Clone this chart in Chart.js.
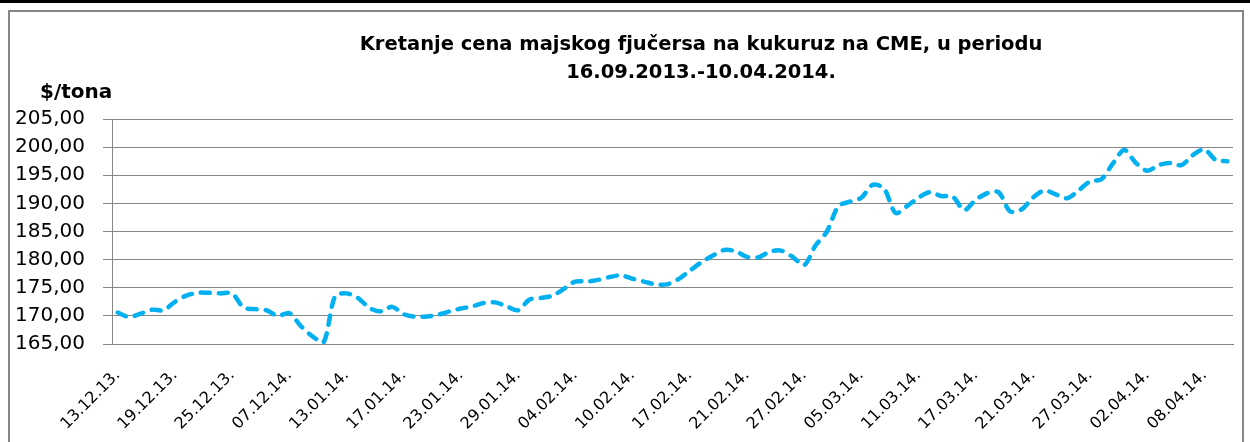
<!DOCTYPE html>
<html>
<head>
<meta charset="utf-8">
<title>Kretanje cena majskog fjučersa na kukuruz na CME</title>
<script src="https://cdn.jsdelivr.net/npm/chart.js@4/dist/chart.umd.min.js"></script>
<style>
    body { margin: 0; background: #fff; overflow: hidden; }
    .top-bar { position: absolute; left: 0; top: 0; width: 1250px; height: 3px; background: #000; }
    .frame { position: absolute; left: 8px; top: 10px; width: 1232px; height: 440px; border: 2px solid #868686; }
    .chart-box { position: absolute; left: 0; top: 0; width: 1250px; height: 442px; }
</style>
</head>
<body>
<div class="top-bar"></div>
<div class="frame"></div>
<div class="chart-box"><canvas id="cornChart"></canvas></div>
<script>
// Tick labels shown on the x axis (every 5th trading day)
const tickLabels = ['13.12.13.', '19.12.13.', '25.12.13.', '07.12.14.', '13.01.14.', '17.01.14.',
    '23.01.14.', '29.01.14.', '04.02.14.', '10.02.14.', '17.02.14.', '21.02.14.', '27.02.14.',
    '05.03.14.', '11.03.14.', '17.03.14.', '21.03.14.', '27.03.14.', '02.04.14.', '08.04.14.'];

// Daily price of the May corn future, $/tona
const prices = [
    170.6, 169.8, 170.4, 171.1, 171.0, 172.5, 173.6, 174.1, 174.1, 174.0,
    174.0, 171.5, 171.2, 171.0, 170.0, 170.5, 168.2, 166.4, 165.3, 173.5,
    174.0, 173.2, 171.4, 170.8, 171.6, 170.3, 169.85, 169.9, 170.2, 170.8,
    171.3, 171.7, 172.3, 172.4, 171.7, 171.0, 172.9, 173.2, 173.6, 174.8,
    176.1, 176.1, 176.4, 176.9, 177.2, 176.6, 176.1, 175.6, 175.6, 176.5,
    178.0, 179.5, 180.7, 181.7, 181.5, 180.5, 180.4, 181.4, 181.6, 180.5,
    179.0, 182.5, 185.0, 189.5, 190.3, 191.0, 193.3, 192.6, 188.3, 189.5,
    191.0, 192.0, 191.3, 191.2, 188.8, 190.6, 191.8, 192.0, 188.6, 188.9,
    191.0, 192.3, 191.6, 190.9, 192.3, 193.9, 194.3, 197.1, 199.5, 197.2,
    195.8, 196.8, 197.2, 196.8, 198.6, 199.6, 197.7, 197.5
];

const titleLines = ['Kretanje cena majskog fjučersa na kukuruz na CME, u periodu', '16.09.2013.-10.04.2014.'];
const unitLabel = '$/tona';

// one category per price, label only every 5th
const categories = prices.map((_, i) => (i % 5 === 0 ? tickLabels[i / 5] || '' : ''));

const fontFamily = '"DejaVu Sans", sans-serif';
const gridColor = '#868686';

// Title and unit text drawn above the plot
const headerPlugin = {
    id: 'headerText',
    afterDraw(chart) {
        const ctx = chart.ctx;
        ctx.save();
        ctx.fillStyle = '#000';
        ctx.font = 'bold 19.5px ' + fontFamily;
        ctx.textBaseline = 'middle';
        ctx.textAlign = 'center';
        ctx.fillText(titleLines[0], 701, 45);
        ctx.fillText(titleLines[1], 701, 73);
        ctx.font = 'bold 20px ' + fontFamily;
        ctx.textAlign = 'left';
        ctx.fillText(unitLabel, 40, 93);
        ctx.restore();
    }
};

const initializeChart = () => {
    const ctx = document.getElementById('cornChart').getContext('2d');
    new Chart(ctx, {
        type: 'line',
        data: {
            labels: categories,
            datasets: [{
                label: 'Cena',
                data: prices,
                borderColor: '#00B0F0',
                borderWidth: 4.5,
                borderDash: [9, 9],
                borderCapStyle: 'round',
                tension: 0.3,
                pointRadius: 0,
                fill: false
            }]
        },
        options: {
            responsive: true,
            maintainAspectRatio: false,
            animation: false,
            layout: {
                padding: { left: 10, right: 17, top: 119, bottom: 0 }
            },
            plugins: {
                legend: { display: false },
                title: { display: false },
                tooltip: { enabled: false }
            },
            scales: {
                x: {
                    offset: true,
                    grid: { display: false, drawTicks: false },
                    border: { display: true, color: gridColor },
                    ticks: {
                        autoSkip: false,
                        minRotation: 45,
                        maxRotation: 45,
                        padding: 22,
                        color: '#000',
                        font: { family: fontFamily, size: 16 }
                    },
                    afterFit: (scale) => {
                        scale.height = 98;
                        // labels end at their tick, no extra room needed on the right
                        scale.paddingRight = 0;
                    }
                },
                y: {
                    min: 165,
                    max: 205,
                    grid: { color: gridColor, lineWidth: 1, drawTicks: true, tickLength: 9 },
                    border: { display: true, color: gridColor },
                    ticks: {
                        stepSize: 5,
                        padding: 18,
                        color: '#000',
                        font: { family: fontFamily, size: 20 },
                        callback: (value) => value.toFixed(2).replace('.', ',')
                    },
                    afterFit: (scale) => { scale.width = 102; }
                }
            }
        },
        plugins: [headerPlugin]
    });
};

document.addEventListener('DOMContentLoaded', initializeChart);
</script>
</body>
</html>
